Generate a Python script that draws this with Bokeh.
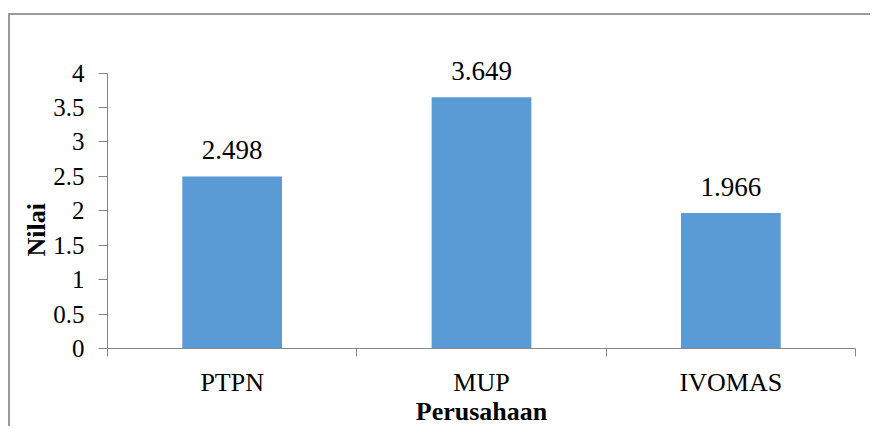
from bokeh.plotting import figure
from bokeh.models import (ColumnDataSource, Range1d, FixedTicker, NumeralTickFormatter,
                          LabelSet, Title)
from bokeh.core.properties import value
from bokeh.embed import file_html
from bokeh.resources import INLINE

categories = ["PTPN", "MUP", "IVOMAS"]
values = [2.498, 3.649, 1.966]
value_labels = ["2.498", "3.649", "1.966"]
y_ticks = [0, 0.5, 1, 1.5, 2, 2.5, 3, 3.5, 4]
x_label = "Perusahaan"
y_label = "Nilai"

xs = [i + 0.5 for i in range(len(categories))]
src = ColumnDataSource(dict(x=xs, value=values, label=value_labels, cat=categories))

FONT = "Liberation Serif"
AXIS_COLOR = "#878787"
Y_MAX = y_ticks[-1]

x_range = Range1d(0, len(categories))
y_range = Range1d(0, Y_MAX * 1.1)  # headroom so the top value label is not clipped
p = figure(width=862, height=413, output_backend="svg", toolbar_location=None,
           x_range=x_range, y_range=y_range,
           min_border_left=97, min_border_right=17, min_border_top=30, min_border_bottom=79)
# outer chart border (only top and left edges are inside the crop)
p.styles = {"margin-top": "13px", "margin-left": "8px",
            "border-top": "2px solid #9a9a9a", "border-left": "2px solid #9a9a9a"}
p.outline_line_color = None
p.xgrid.visible = False
p.ygrid.visible = False

p.vbar(x="x", top="value", width=0.4, source=src, fill_color="#5B9BD5", line_color=None)

labels = LabelSet(x="x", y="value", text="label", source=src, text_align="center",
                  text_baseline="bottom", y_offset=17, text_font=value(FONT),
                  text_font_size=value("27px"), text_color=value("#000000"))
p.add_layout(labels)

# x axis
xa = p.xaxis[0]
xa.ticker = FixedTicker(ticks=xs, minor_ticks=list(range(len(categories) + 1)))
xa.major_label_overrides = {x: c for x, c in zip(xs, categories)}
xa.major_tick_in = 0
xa.major_tick_out = 0
xa.minor_tick_in = 0
xa.minor_tick_out = 8
xa.minor_tick_line_color = AXIS_COLOR
xa.axis_line_color = AXIS_COLOR
xa.major_label_text_font = FONT
xa.major_label_text_font_size = "26px"
xa.major_label_text_color = "#000000"
xa.major_label_standoff = 11
xa.axis_label = x_label
xa.axis_label_text_font = FONT
xa.axis_label_text_font_size = "26px"
xa.axis_label_text_font_style = "bold"
xa.axis_label_text_color = "#000000"
xa.axis_label_standoff = -3

# y axis (ticks 0..4 only)
ya = p.yaxis[0]
ya.bounds = (0, Y_MAX)
ya.ticker = FixedTicker(ticks=y_ticks)
ya.formatter = NumeralTickFormatter(format="0.[0]")
ya.major_tick_in = 0
ya.major_tick_out = 9
ya.major_tick_line_color = AXIS_COLOR
ya.minor_tick_line_color = None
ya.axis_line_color = AXIS_COLOR
ya.major_label_text_font = FONT
ya.major_label_text_font_size = "25px"
ya.major_label_text_color = "#000000"
ya.major_label_standoff = 14

# y axis title as a side title, placed a little below the plot's middle
p.add_layout(Title(text=y_label, align="left", offset=92, standoff=0,
                   text_font=FONT, text_font_size="26px", text_font_style="bold",
                   text_color="#000000"), "left")

open("out.html", "w").write(file_html(p, INLINE))
